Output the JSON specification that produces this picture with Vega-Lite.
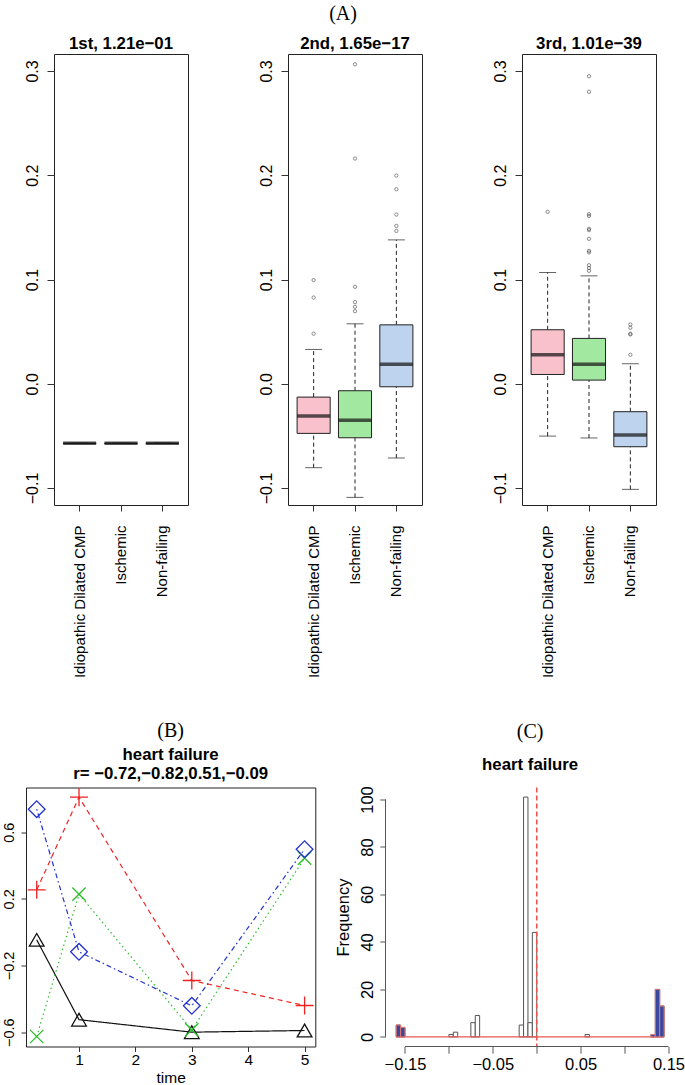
{
  "$schema": "https://vega.github.io/schema/vega-lite/v6.json",
  "padding": {"left": 0, "top": 4, "right": 0, "bottom": 0},
  "background": "white",
  "config": {
    "view": {"stroke": "#222", "strokeWidth": 1},
    "font": "Liberation Sans",
    "axis": {"labelFont": "Liberation Sans", "titleFont": "Liberation Sans", "labelColor": "black", "titleColor": "black", "tickColor": "#333", "domain": false, "grid": false, "labelFlush": false, "labelOverlap": false, "titleFontWeight": "normal"}
  },
  "resolve": {"scale": {"color": "independent"}},
  "datasets": {
    "boxes": [
      {"panel": "1st", "group": "Idiopathic Dilated CMP", "lower": -0.0571, "q1": -0.0571, "median": -0.0571, "q3": -0.0571, "upper": -0.0571},
      {"panel": "1st", "group": "Ischemic", "lower": -0.0571, "q1": -0.0571, "median": -0.0571, "q3": -0.0571, "upper": -0.0571},
      {"panel": "1st", "group": "Non-failing", "lower": -0.0571, "q1": -0.0571, "median": -0.0571, "q3": -0.0571, "upper": -0.0571},
      {"panel": "2nd", "group": "Idiopathic Dilated CMP", "lower": -0.0805, "q1": -0.0476, "median": -0.031, "q3": -0.0128, "upper": 0.0329},
      {"panel": "2nd", "group": "Ischemic", "lower": -0.109, "q1": -0.0518, "median": -0.0351, "q3": -0.0067, "upper": 0.0575},
      {"panel": "2nd", "group": "Non-failing", "lower": -0.0712, "q1": -0.0029, "median": 0.0188, "q3": 0.0565, "upper": 0.138},
      {"panel": "3rd", "group": "Idiopathic Dilated CMP", "lower": -0.0502, "q1": 0.0089, "median": 0.0278, "q3": 0.0518, "upper": 0.1067},
      {"panel": "3rd", "group": "Ischemic", "lower": -0.052, "q1": 0.0035, "median": 0.0188, "q3": 0.0435, "upper": 0.1035},
      {"panel": "3rd", "group": "Non-failing", "lower": -0.1013, "q1": -0.0604, "median": -0.0492, "q3": -0.0268, "upper": 0.0192}
    ],
    "outliers": [
      {"panel": "2nd", "group": "Idiopathic Dilated CMP", "value": 0.048},
      {"panel": "2nd", "group": "Idiopathic Dilated CMP", "value": 0.0827},
      {"panel": "2nd", "group": "Idiopathic Dilated CMP", "value": 0.0994},
      {"panel": "2nd", "group": "Ischemic", "value": 0.0696},
      {"panel": "2nd", "group": "Ischemic", "value": 0.0738},
      {"panel": "2nd", "group": "Ischemic", "value": 0.0783},
      {"panel": "2nd", "group": "Ischemic", "value": 0.093},
      {"panel": "2nd", "group": "Ischemic", "value": 0.216},
      {"panel": "2nd", "group": "Ischemic", "value": 0.3064},
      {"panel": "2nd", "group": "Non-failing", "value": 0.1466},
      {"panel": "2nd", "group": "Non-failing", "value": 0.1514},
      {"panel": "2nd", "group": "Non-failing", "value": 0.1623},
      {"panel": "2nd", "group": "Non-failing", "value": 0.1866},
      {"panel": "2nd", "group": "Non-failing", "value": 0.1997},
      {"panel": "3rd", "group": "Idiopathic Dilated CMP", "value": 0.1649},
      {"panel": "3rd", "group": "Ischemic", "value": 0.1083},
      {"panel": "3rd", "group": "Ischemic", "value": 0.111},
      {"panel": "3rd", "group": "Ischemic", "value": 0.1137},
      {"panel": "3rd", "group": "Ischemic", "value": 0.126},
      {"panel": "3rd", "group": "Ischemic", "value": 0.1275},
      {"panel": "3rd", "group": "Ischemic", "value": 0.139},
      {"panel": "3rd", "group": "Ischemic", "value": 0.1473},
      {"panel": "3rd", "group": "Ischemic", "value": 0.1486},
      {"panel": "3rd", "group": "Ischemic", "value": 0.161},
      {"panel": "3rd", "group": "Ischemic", "value": 0.1626},
      {"panel": "3rd", "group": "Ischemic", "value": 0.28},
      {"panel": "3rd", "group": "Ischemic", "value": 0.295},
      {"panel": "3rd", "group": "Non-failing", "value": 0.0278},
      {"panel": "3rd", "group": "Non-failing", "value": 0.0473},
      {"panel": "3rd", "group": "Non-failing", "value": 0.048},
      {"panel": "3rd", "group": "Non-failing", "value": 0.0537},
      {"panel": "3rd", "group": "Non-failing", "value": 0.0569}
    ],
    "trend": [
      {"series": "s1", "time": 0.25, "value": -0.046},
      {"series": "s1", "time": 1, "value": -0.525},
      {"series": "s1", "time": 3, "value": -0.6},
      {"series": "s1", "time": 5, "value": -0.59},
      {"series": "s2", "time": 0.25, "value": 0.254},
      {"series": "s2", "time": 1, "value": 0.81},
      {"series": "s2", "time": 3, "value": -0.29},
      {"series": "s2", "time": 5, "value": -0.44},
      {"series": "s3", "time": 0.25, "value": -0.626},
      {"series": "s3", "time": 1, "value": 0.228},
      {"series": "s3", "time": 3, "value": -0.586},
      {"series": "s3", "time": 5, "value": 0.444},
      {"series": "s4", "time": 0.25, "value": 0.738},
      {"series": "s4", "time": 1, "value": -0.118},
      {"series": "s4", "time": 3, "value": -0.442},
      {"series": "s4", "time": 5, "value": 0.498}
    ],
    "hist": [
      {"x0": -0.16, "x1": -0.155, "count": 5, "selected": true},
      {"x0": -0.155, "x1": -0.15, "count": 4, "selected": true},
      {"x0": -0.1, "x1": -0.095, "count": 1, "selected": false},
      {"x0": -0.095, "x1": -0.09, "count": 2, "selected": false},
      {"x0": -0.075, "x1": -0.07, "count": 6, "selected": false},
      {"x0": -0.07, "x1": -0.065, "count": 9, "selected": false},
      {"x0": -0.02, "x1": -0.015, "count": 5, "selected": false},
      {"x0": -0.015, "x1": -0.01, "count": 101, "selected": false},
      {"x0": -0.01, "x1": -0.005, "count": 6, "selected": false},
      {"x0": -0.005, "x1": 0, "count": 44, "selected": false},
      {"x0": 0.055, "x1": 0.06, "count": 1, "selected": false},
      {"x0": 0.13, "x1": 0.135, "count": 1, "selected": true},
      {"x0": 0.135, "x1": 0.14, "count": 20, "selected": true},
      {"x0": 0.14, "x1": 0.145, "count": 13, "selected": true}
    ]
  },
  "spacing": 40.5,
  "bounds": "full",
  "vconcat": [
    {
      "title": {"text": "(A)", "font": "Liberation Serif", "fontSize": 20, "fontWeight": "normal", "color": "black", "anchor": "middle", "offset": 11, "dx": 3},
      "spacing": 0,
      "bounds": "flush",
      "hconcat": [
        {"width": 27.3, "height": 451, "data": {"values": []}, "mark": "point", "encoding": {}, "view": {"stroke": null}},
        {
          "width": 134, "height": 451,
          "title": {"text": "1st, 1.21e\u221201", "frame": "group", "anchor": "middle", "offset": 1.5, "fontSize": 16.8, "fontWeight": "bold", "font": "Liberation Sans", "color": "black"},
          "layer": [
            {"data": {"name": "boxes"}, "transform": [{"filter": "datum.panel === '1st'"}], "mark": {"type": "rule", "strokeDash": [4, 3], "color": "#222", "strokeWidth": 1},
             "encoding": {
               "x": {"field": "group", "type": "nominal", "title": null, "scale": {"type": "band", "domain": ["Idiopathic Dilated CMP", "Ischemic", "Non-failing"], "paddingInner": 0.2, "paddingOuter": 0.22}, "axis": {"labelAngle": -90, "tickSize": 6, "labelPadding": 14, "labelFontSize": 15, "title": null}},
               "y": {"field": "q3", "type": "quantitative", "scale": {"domain": [-0.1163, 0.3163], "nice": false, "zero": false}, "axis": {"values": [-0.1, 0, 0.1, 0.2, 0.3], "labelExpr": "replace(format(datum.value, '.1f'), '-', '\u2212')", "labelAngle": -90, "tickSize": 7, "labelPadding": 7, "labelFontSize": 16, "title": null}},
               "y2": {"field": "upper"}}},
            {"data": {"name": "boxes"}, "transform": [{"filter": "datum.panel === '1st'"}], "mark": {"type": "rule", "strokeDash": [4, 3], "color": "#222", "strokeWidth": 1},
             "encoding": {"x": {"field": "group", "type": "nominal"}, "y": {"field": "lower", "type": "quantitative"}, "y2": {"field": "q1"}}},
            {"data": {"name": "boxes"}, "transform": [{"filter": "datum.panel === '1st'"}], "mark": {"type": "tick", "size": 17, "thickness": 1, "color": "#222"},
             "encoding": {"x": {"field": "group", "type": "nominal"}, "y": {"field": "upper", "type": "quantitative"}}},
            {"data": {"name": "boxes"}, "transform": [{"filter": "datum.panel === '1st'"}], "mark": {"type": "tick", "size": 17, "thickness": 1, "color": "#222"},
             "encoding": {"x": {"field": "group", "type": "nominal"}, "y": {"field": "lower", "type": "quantitative"}}},
            {"data": {"name": "boxes"}, "transform": [{"filter": "datum.panel === '1st'"}], "mark": {"type": "bar", "stroke": "#222", "strokeWidth": 1},
             "encoding": {"x": {"field": "group", "type": "nominal"}, "y": {"field": "q3", "type": "quantitative"}, "y2": {"field": "q1"},
               "color": {"field": "group", "type": "nominal", "scale": {"domain": ["Idiopathic Dilated CMP", "Ischemic", "Non-failing"], "range": ["#F9C1CC", "#A3E8A0", "#BED3EE"]}, "legend": null}}},
            {"data": {"name": "boxes"}, "transform": [{"filter": "datum.panel === '1st'"}], "mark": {"type": "tick", "size": 33, "thickness": 3.5, "color": "#111"},
             "encoding": {"x": {"field": "group", "type": "nominal"}, "y": {"field": "median", "type": "quantitative"}}},
            {"data": {"name": "outliers"}, "transform": [{"filter": "datum.panel === '1st'"}], "mark": {"type": "point", "shape": "circle", "filled": false, "size": 11, "color": "#333", "strokeWidth": 0.8},
             "encoding": {"x": {"field": "group", "type": "nominal"}, "y": {"field": "value", "type": "quantitative"}}}
          ]
        },
        {"width": 100, "height": 451, "data": {"values": []}, "mark": "point", "encoding": {}, "view": {"stroke": null}},
        {
          "width": 134, "height": 451,
          "title": {"text": "2nd, 1.65e\u221217", "frame": "group", "anchor": "middle", "offset": 1.5, "fontSize": 16.8, "fontWeight": "bold", "font": "Liberation Sans", "color": "black"},
          "layer": [
            {"data": {"name": "boxes"}, "transform": [{"filter": "datum.panel === '2nd'"}], "mark": {"type": "rule", "strokeDash": [4, 3], "color": "#222", "strokeWidth": 1},
             "encoding": {
               "x": {"field": "group", "type": "nominal", "title": null, "scale": {"type": "band", "domain": ["Idiopathic Dilated CMP", "Ischemic", "Non-failing"], "paddingInner": 0.2, "paddingOuter": 0.22}, "axis": {"labelAngle": -90, "tickSize": 6, "labelPadding": 14, "labelFontSize": 15, "title": null}},
               "y": {"field": "q3", "type": "quantitative", "scale": {"domain": [-0.1163, 0.3163], "nice": false, "zero": false}, "axis": {"values": [-0.1, 0, 0.1, 0.2, 0.3], "labelExpr": "replace(format(datum.value, '.1f'), '-', '\u2212')", "labelAngle": -90, "tickSize": 7, "labelPadding": 7, "labelFontSize": 16, "title": null}},
               "y2": {"field": "upper"}}},
            {"data": {"name": "boxes"}, "transform": [{"filter": "datum.panel === '2nd'"}], "mark": {"type": "rule", "strokeDash": [4, 3], "color": "#222", "strokeWidth": 1},
             "encoding": {"x": {"field": "group", "type": "nominal"}, "y": {"field": "lower", "type": "quantitative"}, "y2": {"field": "q1"}}},
            {"data": {"name": "boxes"}, "transform": [{"filter": "datum.panel === '2nd'"}], "mark": {"type": "tick", "size": 17, "thickness": 1, "color": "#222"},
             "encoding": {"x": {"field": "group", "type": "nominal"}, "y": {"field": "upper", "type": "quantitative"}}},
            {"data": {"name": "boxes"}, "transform": [{"filter": "datum.panel === '2nd'"}], "mark": {"type": "tick", "size": 17, "thickness": 1, "color": "#222"},
             "encoding": {"x": {"field": "group", "type": "nominal"}, "y": {"field": "lower", "type": "quantitative"}}},
            {"data": {"name": "boxes"}, "transform": [{"filter": "datum.panel === '2nd'"}], "mark": {"type": "bar", "stroke": "#222", "strokeWidth": 1},
             "encoding": {"x": {"field": "group", "type": "nominal"}, "y": {"field": "q3", "type": "quantitative"}, "y2": {"field": "q1"},
               "color": {"field": "group", "type": "nominal", "scale": {"domain": ["Idiopathic Dilated CMP", "Ischemic", "Non-failing"], "range": ["#F9C1CC", "#A3E8A0", "#BED3EE"]}, "legend": null}}},
            {"data": {"name": "boxes"}, "transform": [{"filter": "datum.panel === '2nd'"}], "mark": {"type": "tick", "size": 33, "thickness": 3.5, "color": "#111"},
             "encoding": {"x": {"field": "group", "type": "nominal"}, "y": {"field": "median", "type": "quantitative"}}},
            {"data": {"name": "outliers"}, "transform": [{"filter": "datum.panel === '2nd'"}], "mark": {"type": "point", "shape": "circle", "filled": false, "size": 11, "color": "#333", "strokeWidth": 0.8},
             "encoding": {"x": {"field": "group", "type": "nominal"}, "y": {"field": "value", "type": "quantitative"}}}
          ]
        },
        {"width": 100, "height": 451, "data": {"values": []}, "mark": "point", "encoding": {}, "view": {"stroke": null}},
        {
          "width": 134, "height": 451,
          "title": {"text": "3rd, 1.01e\u221239", "frame": "group", "anchor": "middle", "offset": 1.5, "fontSize": 16.8, "fontWeight": "bold", "font": "Liberation Sans", "color": "black"},
          "layer": [
            {"data": {"name": "boxes"}, "transform": [{"filter": "datum.panel === '3rd'"}], "mark": {"type": "rule", "strokeDash": [4, 3], "color": "#222", "strokeWidth": 1},
             "encoding": {
               "x": {"field": "group", "type": "nominal", "title": null, "scale": {"type": "band", "domain": ["Idiopathic Dilated CMP", "Ischemic", "Non-failing"], "paddingInner": 0.2, "paddingOuter": 0.22}, "axis": {"labelAngle": -90, "tickSize": 6, "labelPadding": 14, "labelFontSize": 15, "title": null}},
               "y": {"field": "q3", "type": "quantitative", "scale": {"domain": [-0.1163, 0.3163], "nice": false, "zero": false}, "axis": {"values": [-0.1, 0, 0.1, 0.2, 0.3], "labelExpr": "replace(format(datum.value, '.1f'), '-', '\u2212')", "labelAngle": -90, "tickSize": 7, "labelPadding": 7, "labelFontSize": 16, "title": null}},
               "y2": {"field": "upper"}}},
            {"data": {"name": "boxes"}, "transform": [{"filter": "datum.panel === '3rd'"}], "mark": {"type": "rule", "strokeDash": [4, 3], "color": "#222", "strokeWidth": 1},
             "encoding": {"x": {"field": "group", "type": "nominal"}, "y": {"field": "lower", "type": "quantitative"}, "y2": {"field": "q1"}}},
            {"data": {"name": "boxes"}, "transform": [{"filter": "datum.panel === '3rd'"}], "mark": {"type": "tick", "size": 17, "thickness": 1, "color": "#222"},
             "encoding": {"x": {"field": "group", "type": "nominal"}, "y": {"field": "upper", "type": "quantitative"}}},
            {"data": {"name": "boxes"}, "transform": [{"filter": "datum.panel === '3rd'"}], "mark": {"type": "tick", "size": 17, "thickness": 1, "color": "#222"},
             "encoding": {"x": {"field": "group", "type": "nominal"}, "y": {"field": "lower", "type": "quantitative"}}},
            {"data": {"name": "boxes"}, "transform": [{"filter": "datum.panel === '3rd'"}], "mark": {"type": "bar", "stroke": "#222", "strokeWidth": 1},
             "encoding": {"x": {"field": "group", "type": "nominal"}, "y": {"field": "q3", "type": "quantitative"}, "y2": {"field": "q1"},
               "color": {"field": "group", "type": "nominal", "scale": {"domain": ["Idiopathic Dilated CMP", "Ischemic", "Non-failing"], "range": ["#F9C1CC", "#A3E8A0", "#BED3EE"]}, "legend": null}}},
            {"data": {"name": "boxes"}, "transform": [{"filter": "datum.panel === '3rd'"}], "mark": {"type": "tick", "size": 33, "thickness": 3.5, "color": "#111"},
             "encoding": {"x": {"field": "group", "type": "nominal"}, "y": {"field": "median", "type": "quantitative"}}},
            {"data": {"name": "outliers"}, "transform": [{"filter": "datum.panel === '3rd'"}], "mark": {"type": "point", "shape": "circle", "filled": false, "size": 11, "color": "#333", "strokeWidth": 0.8},
             "encoding": {"x": {"field": "group", "type": "nominal"}, "y": {"field": "value", "type": "quantitative"}}}
          ]
        }
      ]
    },
    {
      "spacing": 69.5,
      "bounds": "flush",
      "resolve": {"scale": {"color": "independent"}},
      "hconcat": [
        {
          "width": 289.3, "height": 259,
          "title": {"text": "(B)", "font": "Liberation Serif", "fontSize": 20, "fontWeight": "normal", "color": "black",
                    "subtitle": ["heart failure", "r= \u22120.72,\u22120.82,0.51,\u22120.09"], "subtitleFont": "Liberation Sans", "subtitleFontSize": 16.8, "subtitleFontWeight": "bold", "subtitleColor": "black", "subtitleLineHeight": 19, "subtitlePadding": 5.7, "offset": 3.2, "frame": "group", "anchor": "middle"},
          "data": {"name": "trend"},
          "layer": [
            {"mark": {"type": "line", "strokeWidth": 1.2},
             "encoding": {
               "x": {"field": "time", "type": "quantitative", "scale": {"domain": [0.06, 5.19], "nice": false, "zero": false}, "axis": {"values": [1, 2, 3, 4, 5], "format": "d", "tickSize": 5, "labelPadding": 1, "labelFontSize": 15.5, "title": "time", "titleFontSize": 15.5, "titlePadding": 2}},
               "y": {"field": "value", "type": "quantitative", "scale": {"domain": [-0.686, 0.868], "nice": false, "zero": false}, "axis": {"values": [-0.6, -0.4, -0.2, 0, 0.2, 0.4, 0.6, 0.8], "labelExpr": "abs(abs(datum.value) - 0.6) < 0.01 || abs(abs(datum.value) - 0.2) < 0.01 ? replace(format(datum.value, '.1f'), '-', '\u2212') : ''", "labelAngle": -90, "tickSize": 5, "labelPadding": 5, "labelFontSize": 14.5, "title": null}},
               "color": {"field": "series", "type": "nominal", "scale": {"domain": ["s1", "s2", "s3", "s4"], "range": ["#111111", "#EE2222", "#2DBE2D", "#2233CC"]}, "legend": null},
               "strokeDash": {"field": "series", "type": "nominal", "scale": {"domain": ["s1", "s2", "s3", "s4"], "range": [[1, 0], [5, 4], [1.5, 3], [1.5, 3, 5, 3]]}, "legend": null}}},
            {"mark": {"type": "point", "filled": false, "strokeWidth": 1.3, "opacity": 1},
             "encoding": {
               "x": {"field": "time", "type": "quantitative"},
               "y": {"field": "value", "type": "quantitative"},
               "color": {"field": "series", "type": "nominal", "legend": null},
               "shape": {"field": "series", "type": "nominal", "scale": {"domain": ["s1", "s2", "s3", "s4"], "range": ["triangle-up", "M-1,0L1,0M0,-1L0,1", "M-1,-1L1,1M-1,1L1,-1", "diamond"]}, "legend": null},
               "size": {"field": "series", "type": "nominal", "scale": {"type": "ordinal", "domain": ["s1", "s2", "s3", "s4"], "range": [216, 324, 177, 280]}, "legend": null}}}
          ]
        },
        {
          "width": 289.3, "height": 259,
          "view": {"stroke": null},
          "title": {"text": "(C)", "font": "Liberation Serif", "fontSize": 20, "fontWeight": "normal", "color": "black",
                    "subtitle": "heart failure", "subtitleFont": "Liberation Sans", "subtitleFontSize": 16.8, "subtitleFontWeight": "bold", "subtitleColor": "black", "subtitlePadding": 15, "offset": 11.9, "frame": "group", "anchor": "middle"},
          "layer": [
            {"data": {"name": "hist"}, "mark": {"type": "bar", "fill": "white", "stroke": "#555", "strokeWidth": 1},
             "encoding": {
               "x": {"field": "x0", "type": "quantitative", "scale": {"domain": [-0.1722, 0.1572], "nice": false, "zero": false}, "axis": {"values": [-0.15, -0.1, -0.05, 0, 0.05, 0.1, 0.15], "labelExpr": "abs(datum.value) > 0.12 || (abs(datum.value) > 0.03 && abs(datum.value) < 0.07) ? replace(format(datum.value, '.2f'), '-', '\u2212') : ''", "tickSize": 6.7, "labelPadding": 3, "labelFontSize": 16.5, "tickColor": "#555", "title": null}},
               "x2": {"field": "x1"},
               "y": {"field": "count", "type": "quantitative", "scale": {"domain": [-4.04, 105.04], "nice": false, "zero": false}, "axis": {"values": [0, 20, 40, 60, 80, 100], "labelAngle": -90, "tickSize": 5.7, "labelPadding": 4, "labelFontSize": 16.5, "tickColor": "#555", "title": "Frequency", "titleFontSize": 16.5, "titlePadding": 8}},
               "y2": {"datum": 0}}},
            {"data": {"name": "hist"}, "mark": {"type": "rule", "color": "#E8574F", "strokeWidth": 1.2},
             "encoding": {"x": {"aggregate": "min", "field": "x0", "type": "quantitative"}, "x2": {"aggregate": "max", "field": "x1"}, "y": {"datum": 0}}},
            {"data": {"name": "hist"}, "transform": [{"filter": "datum.selected"}], "mark": {"type": "bar", "fill": "#3A48A0", "stroke": "#E4766C", "strokeWidth": 1},
             "encoding": {"x": {"field": "x0", "type": "quantitative"}, "x2": {"field": "x1"}, "y": {"field": "count", "type": "quantitative"}, "y2": {"datum": 0}}},
            {"data": {"values": [{"cutoff": 0}]}, "mark": {"type": "rule", "color": "#E8574F", "strokeWidth": 1.6, "strokeDash": [5, 3]},
             "encoding": {"x": {"field": "cutoff", "type": "quantitative"}}},
            {"data": {"values": [{}]}, "mark": {"type": "rule", "color": "#555", "strokeWidth": 1},
             "encoding": {"x": {"datum": -0.1722}, "y": {"datum": 0}, "y2": {"datum": 100}}},
            {"data": {"values": [{}]}, "mark": {"type": "rule", "color": "#555", "strokeWidth": 1},
             "encoding": {"x": {"datum": -0.15}, "x2": {"datum": 0.15}, "y": {"datum": -4.04}}}
          ]
        }
      ]
    }
  ]
}
